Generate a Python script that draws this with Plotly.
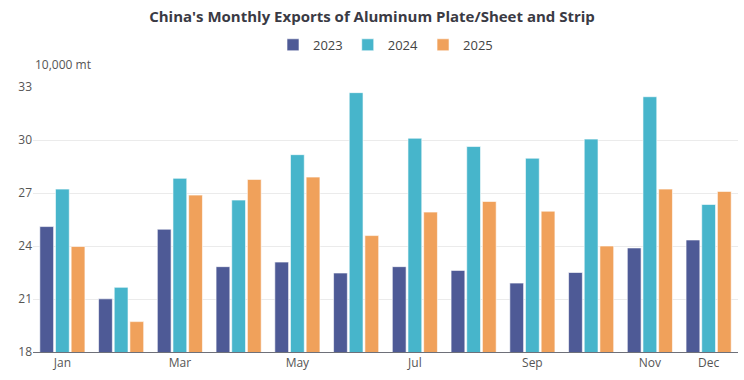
import plotly.graph_objects as go

months = ["Jan", "Feb", "Mar", "Apr", "May", "Jun", "Jul", "Aug", "Sep", "Oct", "Nov", "Dec"]
tick_months = ["Jan", "Mar", "May", "Jul", "Sep", "Nov", "Dec"]
v2023 = [25.10, 21.01, 24.95, 22.83, 23.09, 22.47, 22.83, 22.62, 21.90, 22.50, 23.89, 24.34]
v2024 = [27.22, 21.66, 27.83, 26.60, 29.17, 32.68, 30.10, 29.63, 28.97, 30.05, 32.45, 26.35]
v2025 = [23.97, 19.72, 26.88, 27.77, 27.90, 24.59, 25.92, 26.52, 25.97, 24.00, 27.22, 27.09]
series = [("2023", v2023, "#4E5A96"), ("2024", v2024, "#47B5CB"), ("2025", v2025, "#F0A15B")]

fig = go.Figure()
for name, vals, col in series:
    fig.add_trace(go.Bar(x=months, y=vals, name=name, marker=dict(color=col, line=dict(color="rgba(255,255,255,0.6)", width=1))))

fig.update_layout(
    width=744, height=380,
    margin=dict(l=33, r=6, t=87, b=28, autoexpand=False),
    paper_bgcolor="white", plot_bgcolor="white",
    font=dict(family="Open Sans, Noto Sans, sans-serif", color="#555", size=12),
    title=dict(text="<b>China's Monthly Exports of Aluminum Plate/Sheet and Strip</b>", x=0.5, xanchor="center",
               yref="container", y=0.955, yanchor="middle", font=dict(size=15, color="#3a3a44")),
    legend=dict(orientation="h", x=0.5, xanchor="center", yref="container", y=0.882, yanchor="middle",
                font=dict(size=13, color="#444"), traceorder="normal", itemwidth=30),
    barmode="group", bargap=0.2, bargroupgap=0.12,
    showlegend=True,
)
fig.update_xaxes(tickmode="array", tickvals=tick_months, ticktext=tick_months, showline=True, automargin=False,
                 linecolor="#6E7079", linewidth=1, ticks="", showgrid=False, tickfont=dict(size=12, color="#555"))
fig.update_yaxes(range=[18, 33], tickvals=[18, 21, 24, 27, 30, 33], showgrid=True, gridcolor="#EBEBEB", automargin=False,
                 zeroline=False, showline=False, tickfont=dict(size=12, color="#555"), ticklen=0, ticks="")
fig.add_annotation(text="10,000 mt", xref="paper", yref="paper", x=0, y=1.045, xanchor="left", yanchor="bottom",
                   showarrow=False, font=dict(size=12, color="#555"))
fig.write_html("out.html", config={"displayModeBar": False}, post_script="document.body.style.margin='0';")
